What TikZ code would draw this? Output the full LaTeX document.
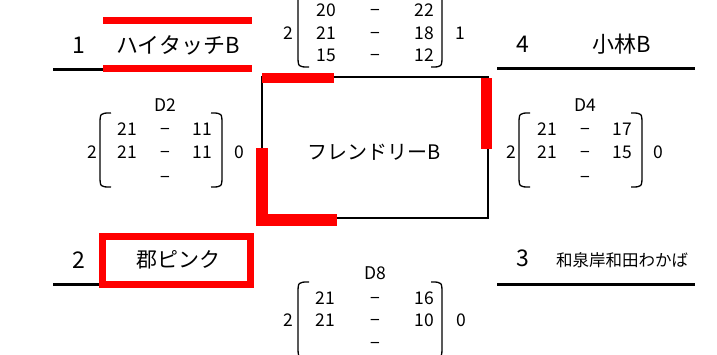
\documentclass[tikz,border=0pt]{standalone}
\usepackage{fontspec}
\setmainfont{Noto Sans CJK JP}
\begin{document}
\begin{tikzpicture}[x=1pt,y=-1pt,
  txt/.style={inner sep=0pt,anchor=center},
  seed/.style={txt,font=\fontsize{23}{23}\selectfont},
  num/.style={txt,font=\fontsize{17.5}{17.5}\selectfont,text height=12.8pt,text depth=0pt},
  paren/.style={line width=1.3pt},
  uline/.style={line width=3pt},
  redline/.style={draw=red,line width=#1},
  boxline/.style={line width=2pt}]
\useasboundingbox (0,0) rectangle (717,354);

% ---- underlines
\coordinate (l1a) at (53,69);  \coordinate (l1b) at (103,69);
\coordinate (l2a) at (53,284.5); \coordinate (l2b) at (100,284.5);
\coordinate (l4a) at (497,68.5); \coordinate (l4b) at (695,68.5);
\coordinate (l3a) at (497,284.5); \coordinate (l3b) at (695,284.5);
\draw[uline] (l1a) -- (l1b);
\draw[uline] (l2a) -- (l2b);
\draw[uline] (l4a) -- (l4b);
\draw[uline] (l3a) -- (l3b);

% ---- seeds and teams
\node[seed] (s1) at (79,45.5) {1};
\node[seed] (s2) at (79,260) {2};
\node[seed] (s3) at (523,258) {3};
\node[seed] (s4) at (523,44.5) {4};
\node[txt,font=\fontsize{22}{22}\selectfont] (t1) at (178,45) {ハイタッチB};
\node[txt,font=\fontsize{21}{21}\selectfont] (t2) at (178,260) {郡ピンク};
\node[txt,font=\fontsize{16.5}{16.5}\selectfont] (t3) at (622,260) {和泉岸和田わかば};
\node[txt,font=\fontsize{22}{22}\selectfont] (t4) at (622,44) {小林B};

% red marks team 1
\draw[redline=7pt] (103,20.5) -- (252,20.5);
\draw[redline=7pt] (103,68.5) -- (252,68.5);
% red box team 2
\draw[redline=7pt] (102.5,236.5) rectangle (250.5,284.5);

% ---- centre box
\node[draw,boxline,minimum width=226pt,minimum height=141pt,inner sep=0pt] (box) at (375,147.5) {};
\node[txt,font=\fontsize{20}{20}\selectfont] (tc) at (374,152.5) {フレンドリーB};
\draw[redline=10pt] (262,78) -- (334,78);
\draw[redline=11pt] (486.5,78) -- (486.5,149);
\draw[redline=12pt,miter limit=10] (261.5,148) -- (261.5,220) -- (337,220);

% ---- top match (1 vs 4)
\node[num] (ma) at (288,33) {2};
\node[num] (mb) at (460,33) {1};
\node[num] (ma1) at (326,10) {20};
\node[num] (ma2) at (326,33) {21};
\node[num] (ma3) at (326,55) {15};
\node[num] (md1) at (375,10) {−};
\node[num] (md2) at (375,33) {−};
\node[num] (md3) at (375,55) {−};
\node[num] (mc1) at (424.5,10) {22};
\node[num] (mc2) at (424.5,33) {18};
\node[num] (mc3) at (424.5,55) {12};
\draw[paren] (309,-7) .. controls (298,-7) .. (298,5) -- (298,55) .. controls (298,67) .. (309,67);
\draw[paren] (431,-7) .. controls (442,-7) .. (442,5) -- (442,55) .. controls (442,67) .. (431,67);

% ---- D2
\node[num] (d2) at (165,105) {D2};
\node[num] (d2a) at (92,152.5) {2};
\node[num] (d2b) at (239,152.5) {0};
\node[num] (d2l1) at (127.5,129) {21};
\node[num] (d2l2) at (127.5,152.5) {21};
\node[num] (d2m1) at (165,129) {−};
\node[num] (d2m2) at (165,152.5) {−};
\node[num] (d2m3) at (165,177) {−};
\node[num] (d2r1) at (202,129) {11};
\node[num] (d2r2) at (202,152.5) {11};
\draw[paren] (111,113) .. controls (100,113) .. (100,125) -- (100,175) .. controls (100,187) .. (111,187);
\draw[paren] (211,113) .. controls (222,113) .. (222,125) -- (222,175) .. controls (222,187) .. (211,187);

% ---- D4
\node[num] (d4) at (585,105) {D4};
\node[num] (d4a) at (511,152.5) {2};
\node[num] (d4b) at (658,152.5) {0};
\node[num] (d4l1) at (547,129) {21};
\node[num] (d4l2) at (547,152.5) {21};
\node[num] (d4m1) at (585,129) {−};
\node[num] (d4m2) at (585,152.5) {−};
\node[num] (d4m3) at (585,177) {−};
\node[num] (d4r1) at (622,129) {17};
\node[num] (d4r2) at (622,152.5) {15};
\draw[paren] (530,113) .. controls (519,113) .. (519,125) -- (519,175) .. controls (519,187) .. (530,187);
\draw[paren] (631,113) .. controls (642,113) .. (642,125) -- (642,175) .. controls (642,187) .. (631,187);

% ---- D8
\node[num] (d8) at (375,273) {D8};
\node[num] (d8a) at (288,320) {2};
\node[num] (d8b) at (461,320) {0};
\node[num] (d8l1) at (325,298) {21};
\node[num] (d8l2) at (325,320) {21};
\node[num] (d8m1) at (375,298) {−};
\node[num] (d8m2) at (375,320) {−};
\node[num] (d8m3) at (375,343) {−};
\node[num] (d8r1) at (424,298) {16};
\node[num] (d8r2) at (424,320) {10};
\draw[paren] (309,282) .. controls (298,282) .. (298,294) -- (298,346) .. controls (298,358) .. (309,358);
\draw[paren] (431,282) .. controls (442,282) .. (442,294) -- (442,346) .. controls (442,358) .. (431,358);
\end{tikzpicture}
\end{document}
